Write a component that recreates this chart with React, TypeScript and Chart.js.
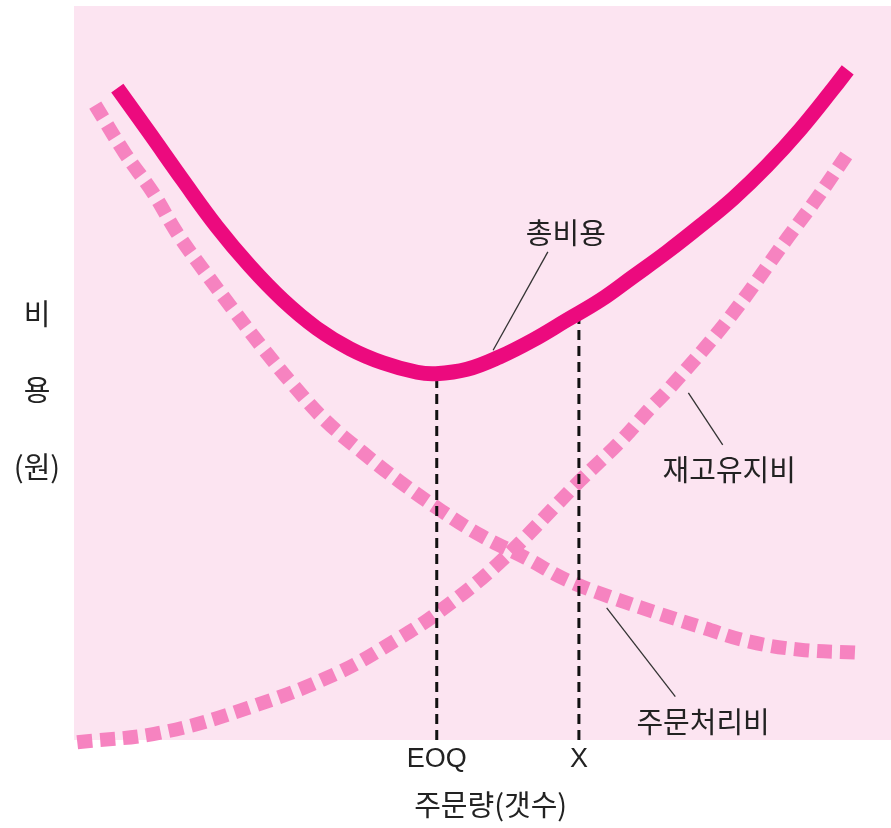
import React, { useEffect, useRef } from 'react';
import { Chart, registerables } from 'chart.js';

Chart.register(...registerables);

// Order quantity (x, relative units 0-100) and cost (y, relative units 0-100)
const totalCostX = [5.3, 9.3, 13.3, 17.5, 21.5, 25.6, 29.7, 33.8, 37.8, 42.0, 44.3, 48.1, 52.1, 56.2, 60.3, 64.4, 68.4, 72.6, 76.6, 80.7, 84.8, 88.9, 92.9, 94.7];
const totalCostY = [88.8, 82.6, 76.3, 69.9, 64.6, 59.9, 56.1, 53.3, 51.4, 50.1, 49.9, 50.5, 52.2, 54.5, 57.2, 59.9, 63.1, 66.5, 70.0, 73.8, 78.2, 83.2, 88.7, 91.3];

const orderingCostX = [2.6, 6.2, 9.7, 12.6, 16.0, 19.5, 23.1, 26.8, 30.7, 35.3, 40.0, 45.0, 49.9, 55.3, 60.3, 65.6, 71.4, 77.0, 82.7, 88.9, 95.8];
const orderingCostY = [86.5, 80.0, 74.5, 69.1, 63.8, 58.6, 53.4, 48.4, 43.6, 39.2, 35.1, 31.2, 27.8, 24.8, 21.8, 19.5, 17.3, 15.3, 13.4, 12.3, 11.9];

const holdingCostX = [0.4, 10.6, 21.4, 32.2, 39.7, 44.6, 52.0, 61.9, 66.8, 70.7, 72.7, 80.0, 87.4, 90.8, 95.0];
const holdingCostY = [-0.3, 1.0, 4.4, 9.1, 13.8, 17.4, 24.1, 35.3, 40.6, 45.4, 47.7, 57.2, 68.5, 73.6, 80.4];

const markerQty = [44.4, 61.8];
const markerCost = [49.9, 57.7];
const tickLabels = ['EOQ', 'X'];

const curveLabels = ['총비용', '재고유지비', '주문처리비'];
const curveLabelX = [60.2, 80.2, 77.0];
const curveLabelY = [69.1, 36.8, 2.5];

const leaderFromX = [58.0, 75.2, 65.2];
const leaderFromY = [66.5, 47.3, 18.0];
const leaderToX = [51.3, 79.4, 73.6];
const leaderToY = [53.1, 40.2, 5.9];

const yTitle = ['비', '용', '(원)'];
const yTitleValues = [58.0, 47.7, 37.2];
const xTitle = '주문량(갯수)';
const xTitleValue = 51.0;

const FONT = '"Noto Sans CJK KR", "Liberation Sans", sans-serif';
const LATIN_FONT = '"Liberation Sans", Arial, sans-serif';
const BG = '#FCE4F1';
const TOTAL_COLOR = '#EC0A7E';
const DASH_COLOR = '#F683C0';

const pts = (xs: number[], ys: number[]) => xs.map((x, i) => ({ x, y: ys[i] }));

const bgPlugin = {
  id: 'bgArea',
  beforeDraw(chart: any) {
    const { ctx, chartArea } = chart;
    ctx.save();
    ctx.fillStyle = BG;
    ctx.fillRect(chartArea.left, chartArea.top, chartArea.right - chartArea.left, chartArea.bottom - chartArea.top);
    ctx.restore();
  },
};

const textPlugin = {
  id: 'texts',
  afterDatasetsDraw(chart: any) {
    const { ctx, chartArea } = chart;
    const xs = chart.scales.x;
    const ys = chart.scales.y;
    ctx.save();
    ctx.fillStyle = '#222';
    ctx.font = `29px ${FONT}`;
    ctx.textAlign = 'center';
    ctx.textBaseline = 'middle';
    curveLabels.forEach((t, i) => {
      ctx.fillText(t, xs.getPixelForValue(curveLabelX[i]), ys.getPixelForValue(curveLabelY[i]));
    });
    yTitle.forEach((t, i) => {
      ctx.fillText(t, chartArea.left / 2, ys.getPixelForValue(yTitleValues[i]));
    });
    ctx.fillText(xTitle, xs.getPixelForValue(xTitleValue), chartArea.bottom + 65);
    ctx.restore();
  },
};

export default function App() {
  const ref = useRef<HTMLCanvasElement | null>(null);

  useEffect(() => {
    if (!ref.current) return;
    const datasets: any[] = [
      {
        label: '총비용',
        data: pts(totalCostX, totalCostY),
        borderColor: TOTAL_COLOR,
        borderWidth: 15,
        tension: 0.4,
        pointRadius: 0,
        order: 0,
        clip: false,
      },
    ];
    markerQty.forEach((q, i) => {
      datasets.push({
        label: tickLabels[i],
        data: [{ x: q, y: 0 }, { x: q, y: markerCost[i] }],
        borderColor: '#111',
        borderWidth: 3,
        borderDash: [10, 6],
        pointRadius: 0,
        order: 1,
      });
    });
    leaderFromX.forEach((fx, i) => {
      datasets.push({
        label: 'leader' + i,
        data: [{ x: fx, y: leaderFromY[i] }, { x: leaderToX[i], y: leaderToY[i] }],
        borderColor: '#333',
        borderWidth: 1.3,
        pointRadius: 0,
        order: 1,
      });
    });
    datasets.push(
      {
        label: '주문처리비',
        data: pts(orderingCostX, orderingCostY),
        borderColor: DASH_COLOR,
        borderWidth: 14,
        borderDash: [15, 8],
        tension: 0.4,
        pointRadius: 0,
        order: 3,
        clip: false,
      },
      {
        label: '재고유지비',
        data: pts(holdingCostX, holdingCostY),
        borderColor: DASH_COLOR,
        borderWidth: 14,
        borderDash: [15, 8],
        tension: 0.4,
        pointRadius: 0,
        order: 3,
        clip: false,
      }
    );

    const chart = new Chart(ref.current, {
      type: 'line',
      data: { datasets },
      options: {
        animation: false,
        responsive: false,
        events: [],
        layout: { padding: { top: 6, right: 0, left: 0, bottom: 0 } },
        plugins: { legend: { display: false }, tooltip: { enabled: false } },
        scales: {
          x: {
            type: 'linear',
            min: 0,
            max: 100,
            grid: { display: false, drawTicks: false },
            border: { display: false },
            afterBuildTicks: (scale: any) => {
              scale.ticks = markerQty.map((v) => ({ value: v }));
            },
            afterFit: (scale: any) => {
              scale.height = 88;
            },
            ticks: {
              autoSkip: false,
              maxRotation: 0,
              padding: 3,
              color: '#222',
              font: { family: LATIN_FONT, size: 27 },
              callback: (value: any) => {
                const idx = markerQty.indexOf(Number(value));
                return idx >= 0 ? tickLabels[idx] : '';
              },
            },
          },
          y: {
            type: 'linear',
            min: 0,
            max: 100,
            grid: { display: false, drawTicks: false },
            border: { display: false },
            ticks: { display: false },
            afterFit: (scale: any) => {
              scale.width = 74;
            },
          },
        },
      },
      plugins: [bgPlugin, textPlugin],
    });
    return () => chart.destroy();
  }, []);

  return (
    <div style={{ position: 'absolute', left: 0, top: 0, width: 891, height: 828 }}>
      <canvas ref={ref} width={891} height={828} style={{ display: 'block' }} />
    </div>
  );
}
